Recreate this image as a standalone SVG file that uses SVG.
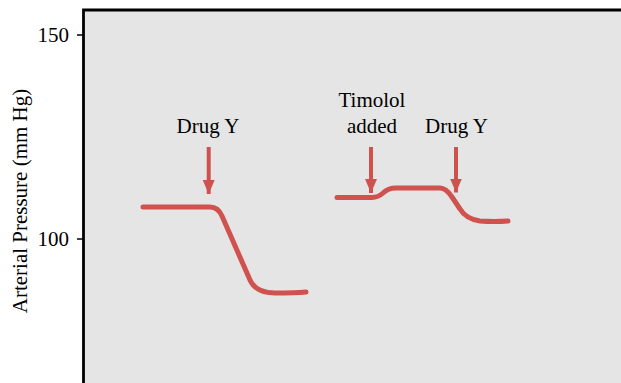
<svg xmlns="http://www.w3.org/2000/svg" width="621" height="383" viewBox="0 0 621 383">
<defs>
<style>
.t{font-family:"Liberation Serif","Times New Roman",serif;font-size:21px;fill:#000}
.curve{fill:none;stroke:#d0524f;stroke-width:5;stroke-linecap:round;stroke-linejoin:round}
.shaft{fill:none;stroke:#d0524f;stroke-width:4}
.ax{stroke:#000;fill:none}
</style>
<marker id="ah" markerWidth="15" markerHeight="13" refX="14" refY="6.5" orient="auto" markerUnits="userSpaceOnUse" viewBox="0 0 15 13">
<path d="M0,0.5 L14,6.5 L0,12.5 Z" fill="#d0524f"/>
</marker>
</defs>
<rect width="621" height="383" fill="#fff"/>
<g id="plot">
<rect x="84" y="10" width="540" height="375" fill="#e5e5e5"/>
<path class="ax" d="M83.5,385 V10 H625" stroke-width="2.8"/>
<path class="ax" d="M77,35 H84 M77,239 H84" stroke-width="1.5"/>
<text class="t" x="69" y="42" text-anchor="end">150</text>
<text class="t" x="69" y="246" text-anchor="end">100</text>
<text class="t" transform="translate(27,201) rotate(-90)" text-anchor="middle">Arterial Pressure (mm Hg)</text>
</g>
<g id="connectors">
<path id="curve1" class="curve" d="M143,207 H210 Q218,207 222,216 L250,280 Q256,293 275,293 Q295,293 306,292"/>
<path id="curve2" class="curve" d="M337,197.5 H372 Q378,197.5 383,193 Q388,188 396,188 H440 Q446,188 452,197 L460,209 Q466,219 480,221 Q494,222 508,221"/>
<line class="shaft" x1="208.7" y1="147" x2="208.7" y2="194" marker-end="url(#ah)"/>
<line class="shaft" x1="371" y1="147" x2="371" y2="193" marker-end="url(#ah)"/>
<line class="shaft" x1="456" y1="147" x2="456" y2="192.5" marker-end="url(#ah)"/>
</g>
<g id="label-drugY1"><text class="t" x="208" y="133" text-anchor="middle">Drug Y</text></g>
<g id="label-timolol"><text class="t" x="372" y="107" text-anchor="middle">Timolol</text><text class="t" x="372" y="133" text-anchor="middle">added</text></g>
<g id="label-drugY2"><text class="t" x="456.5" y="133" text-anchor="middle">Drug Y</text></g>
</svg>
